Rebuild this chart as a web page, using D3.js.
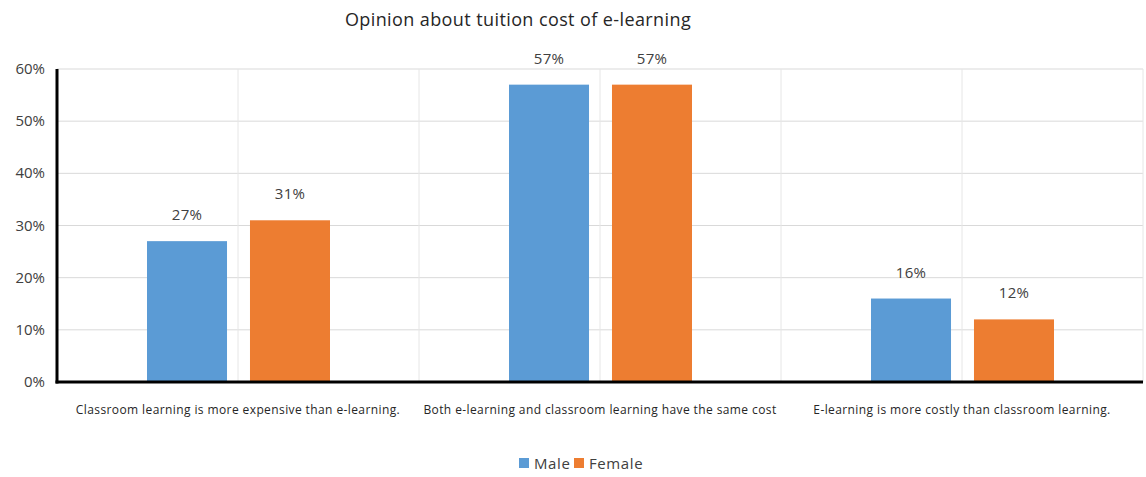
<!DOCTYPE html>
<html><head><meta charset="utf-8">
<script src="https://cdn.jsdelivr.net/npm/d3@7"></script>
<style>body{margin:0;background:#fff;} text{font-family:"Open Sans",sans-serif;}</style>
</head><body><svg id="c" width="1146" height="477"></svg>
<script>
const categories = ["Classroom learning is more expensive than e-learning.","Both e-learning and classroom learning have the same cost","E-learning is more costly than classroom learning."];
const seriesNames = ["Male","Female"];
const male = [27,57,16];
const female = [31,57,12];
const yTicks = [0,10,20,30,40,50,60];
const colors = ["#5b9bd5","#ed7d31"];

const svg = d3.select("#c");
const m = {l:57,r:3,t:69,b:95};
const W = 1146, H = 477;
const x = d3.scaleBand().domain(categories).range([m.l, W-m.r]);
const y = d3.scaleLinear().domain([0,60]).range([H-m.b, m.t]);
const sub = d3.scaleBand().domain(seriesNames).range([-91,92]).paddingInner(0.223);

// horizontal gridlines
svg.append("g").selectAll("line").data(yTicks.slice(1)).join("line")
  .attr("x1",m.l).attr("x2",W-m.r).attr("y1",d=>y(d)).attr("y2",d=>y(d))
  .attr("stroke","#d9d9d9").attr("stroke-width",1);
// vertical gridlines at half-category steps
const vlines = [];
categories.forEach(c=>{vlines.push(x(c)+x.bandwidth()/2); vlines.push(x(c)+x.bandwidth());});
svg.append("g").selectAll("line").data(vlines).join("line")
  .attr("x1",d=>d).attr("x2",d=>d).attr("y1",m.t).attr("y2",y(0))
  .attr("stroke","#e6e6e6").attr("stroke-width",1);

const data = categories.map((c,i)=>({c, vals:[male[i],female[i]]}));
const g = svg.append("g").selectAll("g").data(data).join("g")
  .attr("transform",d=>`translate(${x(d.c)+x.bandwidth()/2},0)`);
g.selectAll("rect").data(d=>d.vals.map((v,j)=>({v,s:seriesNames[j],j}))).join("rect")
  .attr("x",d=>sub(d.s)).attr("width",sub.bandwidth())
  .attr("y",d=>y(d.v)).attr("height",d=>y(0)-y(d.v)).attr("fill",d=>colors[d.j]);
g.selectAll("text.v").data(d=>d.vals.map((v,j)=>({v,s:seriesNames[j],j}))).join("text")
  .attr("class","v").attr("x",d=>sub(d.s)+sub.bandwidth()/2).attr("y",d=>y(d.v)-21)
  .attr("text-anchor","middle").attr("font-size",15).attr("letter-spacing",0.3).attr("fill","#404040").text(d=>d.v+"%");

// y axis labels
svg.append("g").selectAll("text").data(yTicks).join("text")
  .attr("x",45).attr("y",d=>y(d)+5).attr("text-anchor","end")
  .attr("font-size",15).attr("fill","#404040").text(d=>d+"%");

// axes lines
svg.append("line").attr("x1",m.l).attr("x2",m.l).attr("y1",m.t).attr("y2",y(0)+1.5).attr("stroke","#000").attr("stroke-width",3);
svg.append("line").attr("x1",m.l-1.5).attr("x2",W-m.r).attr("y1",y(0)).attr("y2",y(0)).attr("stroke","#000").attr("stroke-width",3);

// x labels
svg.append("g").selectAll("text").data(categories).join("text")
  .attr("x",d=>x(d)+x.bandwidth()/2).attr("y",414).attr("text-anchor","middle")
  .attr("font-size",12).attr("fill","#262626").attr("letter-spacing",0.4).text(d=>d);

// title
svg.append("text").attr("x",518).attr("y",26).attr("text-anchor","middle")
  .attr("font-size",18).attr("letter-spacing",0.4).attr("fill","#262626").text("Opinion about tuition cost of e-learning");

// legend
const lg = svg.append("g").attr("transform","translate(519,464)");
const items = [{n:"Male",x:0},{n:"Female",x:55}];
items.forEach((it,i)=>{
  lg.append("rect").attr("x",it.x).attr("y",-6).attr("width",10).attr("height",10).attr("fill",colors[i]);
  lg.append("text").attr("x",it.x+15).attr("y",5).attr("font-size",15).attr("letter-spacing",0.6).attr("fill","#404040").text(it.n);
});
</script></body></html>
